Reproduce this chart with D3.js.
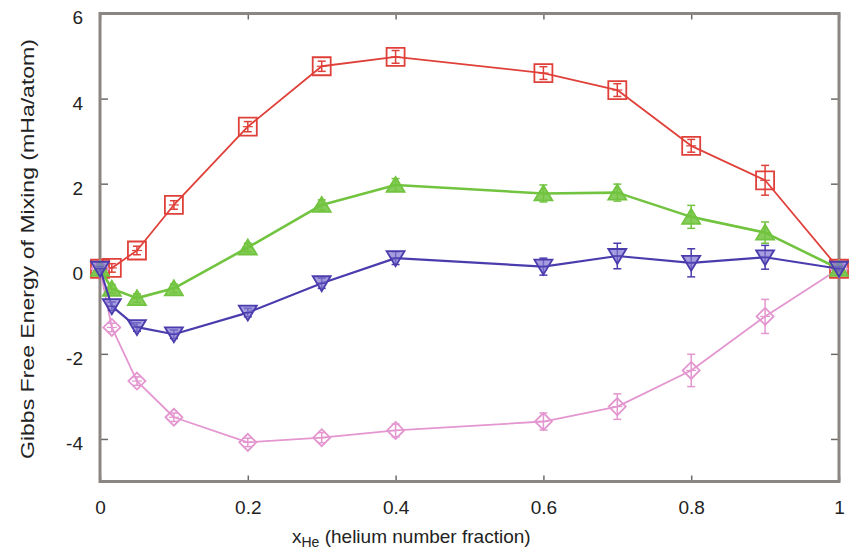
<!DOCTYPE html>
<html>
<head>
<meta charset="utf-8">
<script src="https://cdn.jsdelivr.net/npm/d3@7"></script>
<style>
  html, body { margin: 0; padding: 0; background: #fff; }
  svg { display: block; }
  text { font-family: "Liberation Sans", Arial, Helvetica, sans-serif; fill: #222; }
</style>
</head>
<body>
<svg id="chart" width="849" height="553"></svg>
<script>
// Helium number fraction at each sampled mixture
const xHe = [0, 0.016, 0.05, 0.1, 0.2, 0.3, 0.4, 0.6, 0.7, 0.8, 0.9, 1];

// Gibbs free energy of mixing (mHa/atom) for each series, with error-bar half widths
const redG    = [0, 0.02, 0.43, 1.5, 3.34, 4.76, 4.98, 4.6, 4.2, 2.89, 2.08, 0];
const redErr  = [0.05, 0.1, 0.1, 0.1, 0.12, 0.12, 0.15, 0.15, 0.15, 0.15, 0.35, 0.05];
const greenG   = [0, -0.47, -0.69, -0.46, 0.5, 1.5, 1.97, 1.77, 1.79, 1.22, 0.85, 0];
const greenErr = [0.05, 0.1, 0.1, 0.1, 0.1, 0.12, 0.15, 0.2, 0.2, 0.27, 0.25, 0.05];
const blueG    = [0, -0.88, -1.37, -1.54, -1.03, -0.34, 0.25, 0.05, 0.3, 0.14, 0.27, 0];
const blueErr  = [0.05, 0.1, 0.1, 0.1, 0.1, 0.12, 0.15, 0.2, 0.3, 0.33, 0.28, 0.05];
const pinkG    = [0, -1.38, -2.64, -3.49, -4.08, -3.97, -3.8, -3.59, -3.24, -2.39, -1.12, 0];
const pinkErr  = [0.05, 0.1, 0.1, 0.1, 0.1, 0.12, 0.15, 0.2, 0.3, 0.38, 0.4, 0.05];

// Axis ticks
const xTicks = [0, 0.2, 0.4, 0.6, 0.8, 1];
const xTickLabels = ["0", "0.2", "0.4", "0.6", "0.8", "1"];
const yTicks = [-4, -2, 0, 2, 4, 6];
const yTickLabels = ["-4", "-2", "0", "2", "4", "6"];

const svg = d3.select("#chart");
const plotL = 100, plotR = 839, plotT = 13.5, plotB = 481.5;

const x = d3.scaleLinear().domain([0, 1]).range([plotL, plotR]);
const y = d3.scaleLinear().domain([-5, 6]).range([plotB, plotT]);

const frameColor = "#8b8681";

// Axes with inward ticks
const gx = svg.append("g").attr("transform", `translate(0,${plotB})`)
  .call(d3.axisBottom(x).tickValues(xTicks).tickFormat((d, i) => xTickLabels[i])
    .tickSizeInner(-6).tickSizeOuter(0).tickPadding(19));
const gxTop = svg.append("g").attr("transform", `translate(0,${plotT})`)
  .call(d3.axisTop(x).tickValues(xTicks).tickFormat("").tickSizeInner(-6).tickSizeOuter(0));
const gy = svg.append("g").attr("transform", `translate(${plotL},0)`)
  .call(d3.axisLeft(y).tickValues(yTicks).tickFormat((d, i) => yTickLabels[i])
    .tickSizeInner(-8).tickSizeOuter(0).tickPadding(17));
const gyR = svg.append("g").attr("transform", `translate(${plotR},0)`)
  .call(d3.axisRight(y).tickValues(yTicks).tickFormat("").tickSizeInner(-8).tickSizeOuter(0));

[gx, gxTop, gy, gyR].forEach(g => {
  g.select(".domain").remove();
  g.selectAll(".tick line").attr("stroke", "#6f6a66").attr("stroke-width", 1.5);
  g.selectAll(".tick text").attr("font-size", 19).attr("fill", "#222");
});
gy.selectAll(".tick text").attr("dy", "0.55em");

// Plot frame
svg.append("rect")
  .attr("x", plotL).attr("y", plotT)
  .attr("width", plotR - plotL).attr("height", plotB - plotT)
  .attr("fill", "none").attr("stroke", frameColor).attr("stroke-width", 3);

// Series definitions
const series = [
  { vals: redG,   err: redErr,   color: "#e0403a", width: 1.8, shape: "square",  fill: "none" },
  { vals: pinkG,  err: pinkErr,  color: "#e396cf", width: 1.8, shape: "diamond", fill: "none" },
  { vals: greenG, err: greenErr, color: "#72c440", width: 2.6, shape: "up",      fill: "#72c440" },
  { vals: blueG,  err: blueErr,  color: "#4b3cae", width: 2.2, shape: "down",    fill: "#7f73cf" }
];

const line = d3.line().x(d => x(d[0])).y(d => y(d[1]));

function markerPath(shape) {
  switch (shape) {
    case "square":  return "M-9,-9H9V9H-9Z";
    case "diamond": return "M0,-8.5L8.5,0L0,8.5L-8.5,0Z";
    case "up":      return "M0,-8L9,7H-9Z";
    case "down":    return "M0,8L9,-7H-9Z";
  }
}

series.forEach(s => {
  const pts = xHe.map((xv, i) => [xv, s.vals[i], s.err[i]]);
  const g = svg.append("g");

  g.append("path").datum(pts)
    .attr("d", line)
    .attr("fill", "none")
    .attr("stroke", s.color)
    .attr("stroke-width", s.width)
    .attr("stroke-linejoin", "round");

  // error bars with caps
  const eb = g.selectAll(".eb").data(pts).join("g")
    .attr("stroke", s.color).attr("stroke-width", 1.5);
  eb.append("line")
    .attr("x1", d => x(d[0])).attr("x2", d => x(d[0]))
    .attr("y1", d => y(d[1] - d[2])).attr("y2", d => y(d[1] + d[2]));
  eb.append("line")
    .attr("x1", d => x(d[0]) - 4).attr("x2", d => x(d[0]) + 4)
    .attr("y1", d => y(d[1] + d[2])).attr("y2", d => y(d[1] + d[2]));
  eb.append("line")
    .attr("x1", d => x(d[0]) - 4).attr("x2", d => x(d[0]) + 4)
    .attr("y1", d => y(d[1] - d[2])).attr("y2", d => y(d[1] - d[2]));

  // markers
  g.selectAll(".mk").data(pts).join("path")
    .attr("transform", d => `translate(${x(d[0])},${y(d[1])})`)
    .attr("d", markerPath(s.shape))
    .attr("fill", s.fill)
    .attr("fill-opacity", s.shape === "down" ? 0.7 : 0.85)
    .attr("stroke", s.color)
    .attr("stroke-width", 1.8);

  // centre cross through each marker
  g.selectAll(".cx").data(pts).join("line")
    .attr("x1", d => x(d[0]) - 5).attr("x2", d => x(d[0]) + 5)
    .attr("y1", d => y(d[1])).attr("y2", d => y(d[1]))
    .attr("stroke", s.color).attr("stroke-width", 1.2);
});

// Axis titles
const xt = svg.append("text")
  .attr("x", 292).attr("y", 543)
  .attr("font-size", 19);
xt.append("tspan").text("x");
xt.append("tspan").attr("font-size", 14).attr("dy", 4).text("He");
xt.append("tspan").attr("dy", -4).text(" (helium number fraction)");

svg.append("text")
  .attr("transform", "translate(34,249) rotate(-90)")
  .attr("text-anchor", "middle")
  .attr("font-size", 19)
  .attr("textLength", 420)
  .attr("lengthAdjust", "spacingAndGlyphs")
  .text("Gibbs Free Energy of Mixing (mHa/atom)");
</script>
</body>
</html>
